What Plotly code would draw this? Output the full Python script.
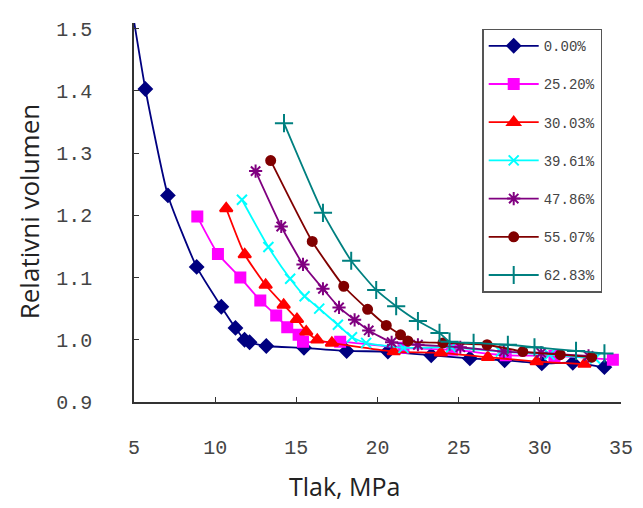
import plotly.graph_objects as go

names = ["0.00%", "25.20%", "30.03%", "39.61%", "47.86%", "55.07%", "62.83%"]

x0 = [4.95, 5.70, 7.09, 8.86, 10.38, 11.25, 11.81, 12.12, 13.15, 15.47, 18.10, 20.64, 23.31, 25.69, 27.83, 30.12, 32.03, 33.98]
y0 = [1.52, 1.403, 1.232, 1.117, 1.053, 1.019, 1.000, 0.996, 0.990, 0.987, 0.982, 0.981, 0.975, 0.970, 0.967, 0.962, 0.963, 0.956]

x25 = [8.90, 10.17, 11.55, 12.78, 13.76, 14.44, 15.14, 15.41, 17.70, 21.6, 24.6, 27.9, 30.9, 34.5]
y25 = [1.198, 1.138, 1.100, 1.063, 1.039, 1.020, 1.008, 0.997, 0.997, 0.987, 0.984, 0.975, 0.974, 0.968]

x30 = [10.68, 11.82, 13.11, 14.22, 15.04, 15.61, 16.29, 17.19, 21.0, 23.9, 26.8, 29.8, 32.75]
y30 = [1.211, 1.137, 1.088, 1.056, 1.033, 1.013, 1.000, 0.995, 0.981, 0.979, 0.972, 0.965, 0.961]

x39 = [11.65, 13.28, 14.62, 15.51, 16.41, 17.56, 18.43, 19.30, 21.6, 24.54, 27.6, 30.6, 33.4]
y39 = [1.225, 1.149, 1.098, 1.070, 1.050, 1.024, 1.004, 0.995, 0.987, 0.988, 0.981, 0.976, 0.970]

x47 = [12.49, 14.07, 15.41, 16.64, 17.63, 18.59, 19.46, 20.87, 22.49, 25.1, 27.78, 30.08, 33.0]
y47 = [1.271, 1.182, 1.121, 1.082, 1.052, 1.032, 1.015, 0.996, 0.992, 0.988, 0.981, 0.979, 0.974]

x55 = [13.42, 15.98, 17.92, 19.39, 20.54, 21.42, 21.87, 24.03, 26.75, 28.95, 31.26, 33.2]
y55 = [1.288, 1.158, 1.086, 1.049, 1.023, 1.008, 0.998, 0.995, 0.992, 0.981, 0.976, 0.972]

x62 = [14.24, 16.64, 18.38, 19.92, 21.15, 22.49, 23.82, 24.44, 25.92, 28.03, 29.67, 32.23, 33.98]
y62 = [1.348, 1.204, 1.127, 1.080, 1.054, 1.030, 1.011, 0.997, 0.995, 0.992, 0.988, 0.982, 0.978]

xs = [x0, x25, x30, x39, x47, x55, x62]
ys = [y0, y25, y30, y39, y47, y55, y62]

colors = ["#000080", "#FF00FF", "#FF0000", "#00FFFF", "#800080", "#800000", "#008080"]
symbols = ["diamond", "square", "triangle-up", "x-thin-open", "asterisk-open", "circle", "cross-thin-open"]
sizes = [10, 10, 11, 10, 11, 9, 13]

fig = go.Figure()
for i in range(len(names)):
    fig.add_trace(go.Scatter(
        x=xs[i], y=ys[i], name=names[i], mode="lines+markers",
        line=dict(color=colors[i], width=1.8, shape="spline", smoothing=0.5),
        marker=dict(symbol=symbols[i], size=sizes[i], color=colors[i],
                    line=dict(color=colors[i], width=2)),
        legendgroup=names[i],
    ))

axis_common = dict(
    showgrid=False, zeroline=False, showline=True, linecolor="#333333", linewidth=1.5,
    ticks="inside", ticklen=5, tickcolor="#333333", tickwidth=1.2, automargin=False,
    tickfont=dict(family="Liberation Mono", size=20, color="#444444"),
)

fig.update_layout(
    width=643, height=508,
    margin=dict(l=126, r=30, t=15, b=114, autoexpand=False),
    paper_bgcolor="white", plot_bgcolor="white",
    xaxis=dict(range=[5, 35], dtick=5, tick0=5, ticklabelstandoff=26, **axis_common),
    yaxis=dict(range=[0.9, 1.509], dtick=0.1, tick0=0.9, tickformat=".1f", ticklabelstandoff=36, **axis_common),
    legend=dict(
        x=0.715, y=0.985, xanchor="left", yanchor="top",
        bordercolor="#555555", borderwidth=1.5, bgcolor="white",
        font=dict(family="Liberation Mono", size=14, color="#444444"),
        itemwidth=50, tracegroupgap=17, traceorder="grouped",
    ),
    showlegend=True,
)

fig.add_annotation(text="Relativni volumen", xref="paper", yref="paper", x=-0.215, y=0.504,
                   xanchor="center", yanchor="middle", textangle=-90, showarrow=False,
                   font=dict(family="Open Sans", size=26, color="#222222"))
fig.add_annotation(text="Tlak, MPa", xref="paper", yref="paper", x=0.433, y=-0.222,
                   xanchor="center", yanchor="middle", showarrow=False,
                   font=dict(family="Open Sans", size=25, color="#222222"))

fig.write_html("out.html")
